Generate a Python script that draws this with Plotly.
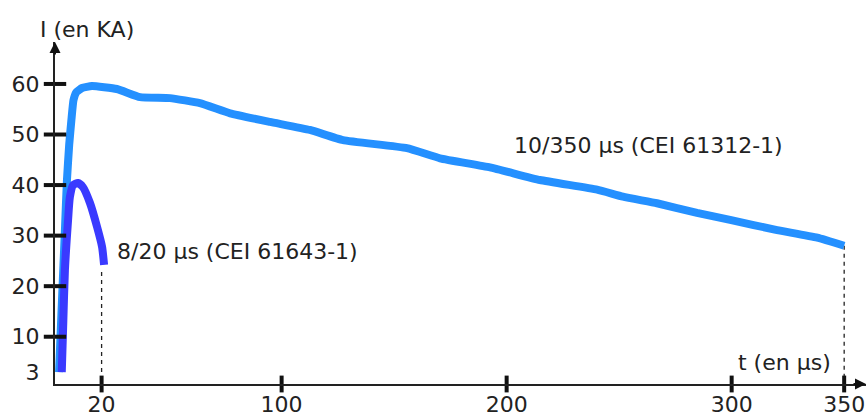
import plotly.graph_objects as go

# ---- data ----
t_long = [1.1, 2.4, 3.7, 4.6, 5.6, 6.6, 7.5, 8.8, 11.3, 15.7, 26.8, 37.1, 50.4, 63.7, 77.1, 94.8,
          112.6, 127.3, 155.7, 170.4, 192.6, 214.8, 240.2, 251.7, 266.8, 284.6, 299.3,
          320.2, 338.0, 350.0]
i_long = [3.0, 17.3, 31.1, 41.0, 48.0, 53.0, 56.8, 58.4, 59.2, 59.6, 59.0, 57.4, 57.2, 56.2, 54.2, 52.5,
          50.9, 48.9, 47.3, 45.3, 43.5, 41.0, 39.1, 37.7, 36.4, 34.5, 33.1,
          31.1, 29.6, 28.0]
t_short = [2.3, 3.0, 3.7, 5.1, 5.9, 7.3, 9.5, 11.7, 14.8, 18.0, 20.2, 21.1]
i_short = [3.0, 13.3, 23.2, 33.1, 37.6, 40.0, 40.4, 39.6, 36.5, 31.7, 27.8, 24.2]

x_ticks = [20, 100, 200, 300, 350]
y_ticks = [3, 10, 20, 30, 40, 50, 60]
y_bars = [10, 20, 30, 40, 50, 60]

drop_t = [20, 350]
drop_i = [22.8, 28.0]

label_long = "10/350 µs (CEI 61312-1)"
label_short = "8/20 µs (CEI 61643-1)"
x_title = "t (en µs)"
y_title = "I (en KA)"

# ---- layout constants ----
X_LO, X_HI = -0.71, 359.7
Y_LO, Y_HI = 0.65, 68.3
FONT = dict(family="DejaVu Sans", size=22, color="#222222")
LIGHT = "#2490ff"
DARK = "#3a3aff"

fig = go.Figure()

# dashed drop lines
for t, i in zip(drop_t, drop_i):
    fig.add_trace(go.Scatter(x=[t, t], y=[i, Y_LO], mode="lines",
                             line=dict(color="#222222", width=1.3, dash="4px,4px"),
                             hoverinfo="skip", showlegend=False))

fig.add_trace(go.Scatter(x=t_long, y=i_long, mode="lines",
                         line=dict(color=LIGHT, width=8, shape="spline", smoothing=0.4),
                         showlegend=False))
fig.add_trace(go.Scatter(x=t_short, y=i_short, mode="lines",
                         line=dict(color=DARK, width=8, shape="spline", smoothing=0.6),
                         showlegend=False))

# tick bars crossing the axes
fig.add_trace(go.Scatter(x=[X_LO] * len(y_bars), y=y_bars, mode="markers",
                         marker=dict(symbol="line-ew", size=16,
                                     line=dict(color="#111111", width=4)),
                         cliponaxis=False, hoverinfo="skip", showlegend=False))
fig.add_trace(go.Scatter(x=x_ticks, y=[Y_LO] * len(x_ticks), mode="markers",
                         marker=dict(symbol="line-ns", size=12,
                                     line=dict(color="#111111", width=4)),
                         cliponaxis=False, hoverinfo="skip", showlegend=False))

annotations = [
    dict(x=202.4, y=47.9, text=label_long, xanchor="left", yanchor="middle", showarrow=False, font=FONT),
    dict(x=26.0, y=26.8, text=label_short, xanchor="left", yanchor="middle", showarrow=False, font=FONT),
    dict(x=323.3, y=4.9, text=x_title, xanchor="center", yanchor="middle", showarrow=False, font=FONT),
    dict(x=0.0395, xref="paper", y=1.038, yref="paper", text=y_title, xanchor="center",
         yanchor="middle", showarrow=False, font=FONT),
    # axis arrows
    dict(x=X_HI, y=Y_LO, ax=-14, ay=0, showarrow=True, arrowhead=2, arrowsize=1.1,
         arrowwidth=2, arrowcolor="#111111", text=""),
    dict(x=X_LO, y=Y_HI, ax=0, ay=14, showarrow=True, arrowhead=2, arrowsize=1.1,
         arrowwidth=2, arrowcolor="#111111", text=""),
]

fig.update_layout(
    width=868, height=418,
    margin=dict(l=55, r=2, t=42, b=34, autoexpand=False),
    paper_bgcolor="white", plot_bgcolor="white",
    font=FONT,
    annotations=annotations,
    xaxis=dict(range=[X_LO, X_HI], showgrid=False, zeroline=False, automargin=False,
               showline=True, linecolor="#222222", linewidth=2,
               tickmode="array", tickvals=x_ticks, ticktext=[str(v) for v in x_ticks],
               ticks="outside", ticklen=0, tickcolor="rgba(0,0,0,0)", tickfont=FONT),
    yaxis=dict(range=[Y_LO, Y_HI], showgrid=False, zeroline=False, automargin=False,
               showline=True, linecolor="#222222", linewidth=2,
               tickmode="array", tickvals=y_ticks, ticktext=[str(v) for v in y_ticks],
               ticks="outside", ticklen=9, tickcolor="rgba(0,0,0,0)", tickfont=FONT),
)

fig.write_html("out.html", config={"displayModeBar": False},
               post_script="document.body.style.margin='0';document.body.style.overflow='hidden';")
